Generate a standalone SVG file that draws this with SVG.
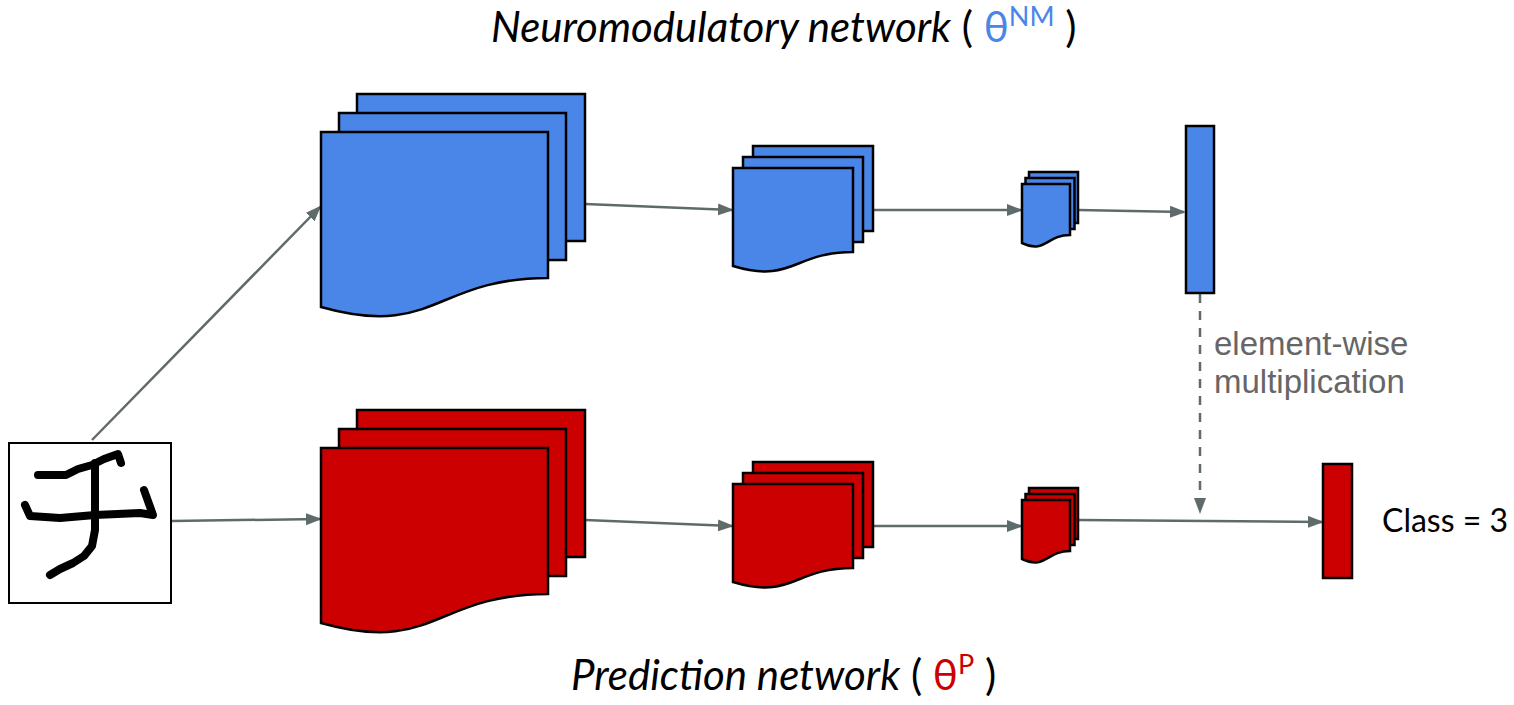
<svg xmlns="http://www.w3.org/2000/svg" width="1514" height="705" viewBox="0 0 1514 705">
<style>
.blue{fill:#4a86e8;stroke:#000;stroke-width:2.5;stroke-linejoin:miter}
.red{fill:#cc0000;stroke:#000;stroke-width:2.5;stroke-linejoin:miter}
.conn{stroke:#5f6b6b;stroke-width:2.5;fill:none}
.title{font-family:Lato,"Liberation Sans",sans-serif;fill:#000}
.lbl{font-family:"Liberation Sans",Arial,sans-serif;fill:#666;font-size:33px}
</style>
<defs>
<marker id="arr" markerWidth="16" markerHeight="14" refX="14" refY="6" orient="auto" markerUnits="userSpaceOnUse">
<path d="M0,0 L16,6 L0,12 Z" fill="#5f6b6b"/>
</marker>
<g id="bigStack">
<rect x="357" y="94" width="228" height="147"/>
<rect x="339" y="113" width="227" height="147"/>
<path d="M321,132 H548 V278 C434.5,278 434.5,339 321,307 Z"/>
</g>
<g id="midStack">
<rect x="753" y="146" width="120" height="85"/>
<rect x="743" y="157" width="120" height="85"/>
<path d="M733,168 H853 V252 C793,252 793,284 733,266 Z"/>
</g>
<g id="smallStack">
<rect x="1029" y="172" width="49" height="51"/>
<rect x="1025.5" y="178" width="49" height="51"/>
<path d="M1022,184 H1070 V235 C1046,235 1046,254 1022,243 Z"/>
</g>
</defs>

<g id="connectors">
<line class="conn" x1="92" y1="440" x2="320" y2="207" marker-end="url(#arr)"/>
<line class="conn" x1="172" y1="521" x2="320" y2="519" marker-end="url(#arr)"/>
<line class="conn" x1="585" y1="204" x2="732" y2="210" marker-end="url(#arr)"/>
<line class="conn" x1="585" y1="520" x2="732" y2="526" marker-end="url(#arr)"/>
<line class="conn" x1="873" y1="210" x2="1021" y2="210" marker-end="url(#arr)"/>
<line class="conn" x1="873" y1="526" x2="1021" y2="526" marker-end="url(#arr)"/>
<line class="conn" x1="1078" y1="210" x2="1184" y2="212" marker-end="url(#arr)"/>
<line class="conn" x1="1078" y1="520" x2="1322" y2="522" marker-end="url(#arr)"/>
<line class="conn" x1="1200" y1="294" x2="1200" y2="512" stroke-dasharray="9,8" marker-end="url(#arr)"/>
</g>

<g id="input-image">
<rect x="9" y="443" width="162" height="160" fill="#fff" stroke="#000" stroke-width="2"/>
<g fill="none" stroke="#000" stroke-width="8" stroke-linecap="round" stroke-linejoin="round">
<path d="M38,475 H66 L78,469 L92,465 L104,459 L118,454 L121,463"/>
<path d="M95,463 V530 L92,546 L84,556 L73,563 L60,569 L50,575"/>
<path d="M25,505 L30,516 L60,518 L95,515 L140,513 L153,515 L144,490"/>
</g>
</g>

<g id="nm-layer1" class="blue"><use href="#bigStack"/></g>
<g id="nm-layer2" class="blue"><use href="#midStack"/></g>
<g id="nm-layer3" class="blue"><use href="#smallStack"/></g>
<g id="nm-output"><rect class="blue" x="1186" y="126" width="28" height="167"/></g>

<g id="p-layer1" class="red"><use href="#bigStack" y="316"/></g>
<g id="p-layer2" class="red"><use href="#midStack" y="316"/></g>
<g id="p-layer3" class="red"><use href="#smallStack" y="316"/></g>
<g id="p-output"><rect class="red" x="1323" y="464" width="29" height="114"/></g>

<g id="label-mult">
<text class="lbl" x="1214" y="355">element-wise</text>
<text class="lbl" x="1214" y="393">multiplication</text>
</g>

<g id="label-class">
<text class="title" x="1382" y="532" font-size="32">Class = 3</text>
</g>

<g id="title-nm">
<text class="title" x="491" y="42" font-size="42"><tspan font-style="italic">Neuromodulatory network</tspan> ( <tspan fill="#4a86e8">θ</tspan><tspan fill="#4a86e8" font-size="27" dy="-16">NM</tspan><tspan dy="16"> )</tspan></text>
</g>

<g id="title-p">
<text class="title" x="571" y="690" font-size="42"><tspan font-style="italic">Prediction network</tspan> ( <tspan fill="#cc0000">θ</tspan><tspan fill="#cc0000" font-size="27" dy="-16">P</tspan><tspan dy="16"> )</tspan></text>
</g>
</svg>
